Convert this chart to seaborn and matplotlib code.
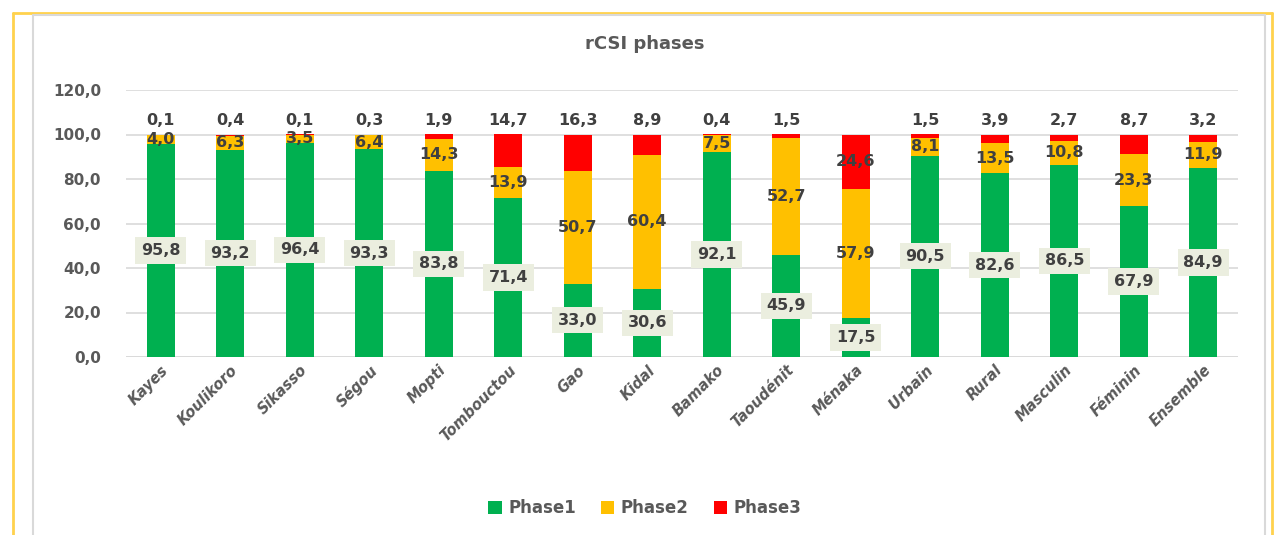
import numpy as np
import matplotlib
matplotlib.use("Agg")
import matplotlib.pyplot as plt
from matplotlib.patches import Rectangle
from matplotlib.lines import Line2D
import seaborn as sns

categories = ["Kayes", "Koulikoro", "Sikasso", "Ségou", "Mopti", "Tombouctou", "Gao",
              "Kidal", "Bamako", "Taoudénit", "Ménaka", "Urbain", "Rural", "Masculin",
              "Féminin", "Ensemble"]
phase1 = [95.8, 93.2, 96.4, 93.3, 83.8, 71.4, 33.0, 30.6, 92.1, 45.9, 17.5, 90.5, 82.6, 86.5, 67.9, 84.9]
phase2 = [4.0, 6.3, 3.5, 6.4, 14.3, 13.9, 50.7, 60.4, 7.5, 52.7, 57.9, 8.1, 13.5, 10.8, 23.3, 11.9]
phase3 = [0.1, 0.4, 0.1, 0.3, 1.9, 14.7, 16.3, 8.9, 0.4, 1.5, 24.6, 1.5, 3.9, 2.7, 8.7, 3.2]
series_names = ["Phase1", "Phase2", "Phase3"]
y_ticks = [0, 20, 40, 60, 80, 100, 120]

colors = ["#00B050", "#FFC000", "#FF0000"]
text_col = "#404040"
tick_col = "#595959"

sns.set_theme(style="white")
plt.rcParams["font.family"] = ["DejaVu Sans"]

fig = plt.figure(figsize=(12.76, 5.35), dpi=100)
ax = fig.add_axes([126 / 1276, 1 - 357 / 535, (1238 - 126) / 1276, (357 - 90) / 535])

p1 = np.array(phase1)
p2 = np.array(phase2)
p3 = np.array(phase3)
bottoms = [np.zeros_like(p1), p1, p1 + p2]
for vals, bot, col, name in zip([p1, p2, p3], bottoms, colors, series_names):
    sns.barplot(x=categories, y=vals, bottom=bot, color=col, width=0.4,
                saturation=1, ax=ax, label=name, linewidth=0, zorder=3)

ax.set_ylim(0, 120)
ax.set_xlim(-0.5, len(categories) - 0.5)
ax.set_yticks(y_ticks)
ax.set_yticklabels([f"{v:.1f}".replace(".", ",") for v in y_ticks],
                   fontsize=11, color=tick_col, fontweight="bold")
ax.tick_params(axis="y", length=0, pad=18)
ax.tick_params(axis="x", length=0, pad=4)
ax.set_xticks(range(len(categories)))
ax.set_xticklabels(categories, rotation=45, ha="right", rotation_mode="anchor",
                   fontsize=10.5, color=tick_col, fontweight="bold", style="italic")
ax.grid(axis="y", color="#D9D9D9", linewidth=1.2, zorder=0)
ax.set_axisbelow(True)
for s in ax.spines.values():
    s.set_visible(False)
ax.axhline(0, color="#D9D9D9", linewidth=1.2, zorder=1)

def fmt(v):
    return f"{v:.1f}".replace(".", ",")

for i in range(len(categories)):
    ax.text(i, p1[i] / 2, fmt(p1[i]), ha="center", va="center", fontsize=11.5,
            color=text_col, fontweight="bold", zorder=5,
            bbox=dict(boxstyle="square,pad=0.35", fc="#EBEEDF", ec="none"))
    ax.text(i, p1[i] + p2[i] / 2, fmt(p2[i]), ha="center", va="center", fontsize=11.5,
            color=text_col, fontweight="bold", zorder=5)
    if p3[i] > 20:
        ax.text(i, p1[i] + p2[i] + p3[i] / 2, fmt(p3[i]), ha="center", va="center",
                fontsize=11.5, color=text_col, fontweight="bold", zorder=5)
    else:
        ax.text(i, 103, fmt(p3[i]), ha="center", va="bottom", fontsize=11.5,
                color=text_col, fontweight="bold", zorder=5)

leg = ax.legend(loc="center", bbox_to_anchor=(0.5 - (126 + 1238 - 1276) / 2 / 1112 + 0.0, 0),
                bbox_transform=fig.transFigure, ncol=3, frameon=False,
                handlelength=0.8, handleheight=0.8, handletextpad=0.4, columnspacing=1.5,
                prop={"size": 12, "weight": "bold"})
leg.set_bbox_to_anchor((645 / 1276, 1 - 508 / 535), transform=fig.transFigure)
for t in leg.get_texts():
    t.set_color(tick_col)

fig.text(645 / 1276, 1 - 44 / 535, "rCSI phases", ha="center", va="center",
         fontsize=13, fontweight="bold", color=tick_col)

# chart frame lines
W, H = 1276, 535
def fline(x0, y0, x1, y1, col, lw):
    fig.add_artist(Line2D([x0 / W, x1 / W], [1 - y0 / H, 1 - y1 / H],
                          transform=fig.transFigure, color=col, linewidth=lw))
fline(13, 13, 1272, 13, "#FFD24D", 2)
fline(13, 13, 13, 535, "#FFD24D", 2)
fline(1272, 13, 1272, 535, "#FFD24D", 2)
fline(33, 15, 1265, 15, "#D9D9D9", 1.5)
fline(33, 15, 33, 535, "#D9D9D9", 1.5)
fline(1265, 15, 1265, 535, "#D9D9D9", 1.5)

fig.savefig("out.png", dpi=100)
